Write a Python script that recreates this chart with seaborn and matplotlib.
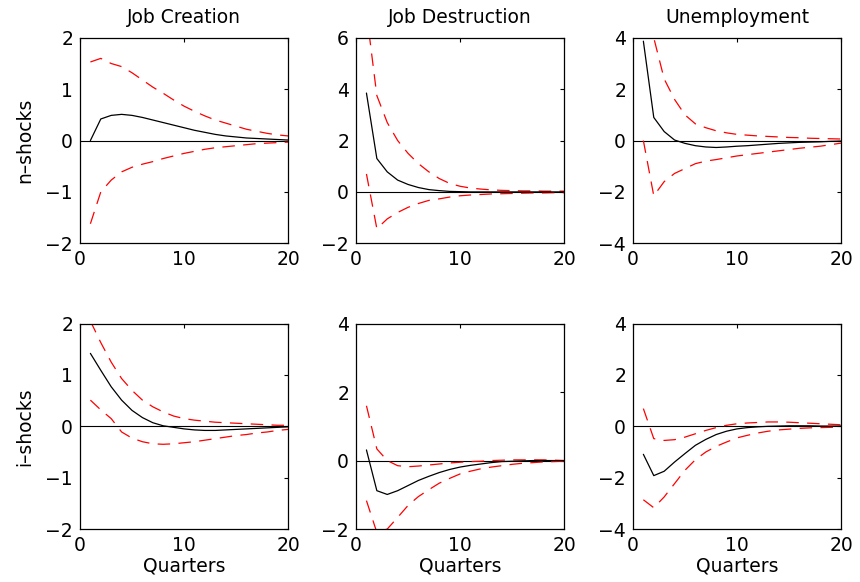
import numpy as np
import pandas as pd
import matplotlib
matplotlib.use("Agg")
import matplotlib.pyplot as plt
import seaborn as sns

quarters = list(range(1, 21))

# n-shocks
jc_n = [0.0, 0.42, 0.49, 0.51, 0.49, 0.45, 0.40, 0.35, 0.30, 0.25,
        0.20, 0.16, 0.12, 0.09, 0.07, 0.05, 0.04, 0.03, 0.02, 0.01]
jc_n_hi = [1.53, 1.60, 1.50, 1.44, 1.32, 1.18, 1.04, 0.92, 0.79, 0.67,
           0.57, 0.48, 0.40, 0.34, 0.28, 0.22, 0.18, 0.14, 0.11, 0.09]
jc_n_lo = [-1.62, -1.00, -0.77, -0.61, -0.52, -0.46, -0.41, -0.35, -0.30, -0.25,
           -0.21, -0.17, -0.14, -0.12, -0.10, -0.08, -0.06, -0.05, -0.04, -0.03]

jd_n = [3.85, 1.30, 0.78, 0.46, 0.29, 0.17, 0.09, 0.05, 0.02, 0.01,
        0.0, 0.0, 0.0, 0.0, 0.0, 0.0, 0.0, 0.0, 0.0, 0.0]
jd_n_hi = [7.0, 3.75, 2.70, 2.00, 1.50, 1.10, 0.78, 0.52, 0.33, 0.22,
           0.15, 0.11, 0.08, 0.06, 0.05, 0.04, 0.04, 0.03, 0.03, 0.03]
jd_n_lo = [0.70, -1.43, -1.05, -0.80, -0.60, -0.45, -0.33, -0.27, -0.20, -0.15,
           -0.12, -0.10, -0.08, -0.07, -0.06, -0.05, -0.04, -0.04, -0.03, -0.03]

un_n = [3.87, 0.90, 0.35, 0.02, -0.11, -0.20, -0.25, -0.27, -0.25, -0.22,
        -0.20, -0.17, -0.14, -0.11, -0.09, -0.07, -0.06, -0.05, -0.03, -0.02]
un_n_hi = [7.0, 4.0, 2.40, 1.60, 1.00, 0.65, 0.50, 0.38, 0.30, 0.24,
           0.21, 0.18, 0.16, 0.14, 0.12, 0.11, 0.09, 0.08, 0.07, 0.06]
un_n_lo = [0.0, -2.15, -1.60, -1.28, -1.09, -0.90, -0.80, -0.74, -0.67, -0.60,
           -0.55, -0.50, -0.45, -0.40, -0.35, -0.30, -0.26, -0.22, -0.16, -0.10]

# i-shocks
jc_i = [1.42, 1.09, 0.77, 0.51, 0.31, 0.17, 0.07, 0.01, -0.02, -0.05,
        -0.07, -0.08, -0.08, -0.07, -0.06, -0.05, -0.04, -0.03, -0.02, -0.01]
jc_i_hi = [2.05, 1.63, 1.25, 0.93, 0.70, 0.51, 0.38, 0.28, 0.20, 0.15,
           0.12, 0.10, 0.08, 0.07, 0.06, 0.05, 0.04, 0.03, 0.02, 0.02]
jc_i_lo = [0.51, 0.32, 0.15, -0.11, -0.23, -0.30, -0.34, -0.35, -0.34, -0.32,
           -0.30, -0.27, -0.24, -0.21, -0.18, -0.16, -0.13, -0.11, -0.08, -0.06]

jd_i = [0.31, -0.88, -0.99, -0.88, -0.73, -0.58, -0.46, -0.35, -0.26, -0.19,
        -0.14, -0.10, -0.06, -0.03, -0.02, -0.01, 0.0, 0.0, 0.0, 0.0]
jd_i_hi = [1.60, 0.34, 0.0, -0.15, -0.18, -0.16, -0.13, -0.10, -0.07, -0.05,
           -0.03, -0.02, 0.0, 0.01, 0.02, 0.02, 0.02, 0.02, 0.01, 0.0]
jd_i_lo = [-1.17, -2.10, -2.00, -1.66, -1.31, -1.05, -0.85, -0.66, -0.52, -0.39,
           -0.31, -0.24, -0.19, -0.15, -0.11, -0.08, -0.06, -0.04, -0.03, -0.02]

un_i = [-1.09, -1.92, -1.75, -1.39, -1.06, -0.74, -0.51, -0.32, -0.19, -0.10,
        -0.05, -0.02, 0.0, 0.01, 0.02, 0.02, 0.02, 0.01, 0.01, 0.01]
un_i_hi = [0.69, -0.48, -0.55, -0.52, -0.42, -0.29, -0.16, -0.05, 0.04, 0.10,
           0.13, 0.15, 0.17, 0.17, 0.16, 0.14, 0.12, 0.10, 0.08, 0.06]
un_i_lo = [-2.86, -3.17, -2.75, -2.23, -1.71, -1.30, -1.00, -0.78, -0.61, -0.45,
           -0.35, -0.26, -0.19, -0.14, -0.11, -0.08, -0.06, -0.05, -0.04, -0.03]

col_titles = ["Job Creation", "Job Destruction", "Unemployment"]
row_labels = ["n\u2013shocks", "i\u2013shocks"]
ylims = [[(-2, 2), (-2, 6), (-4, 4)], [(-2, 2), (-2, 4), (-4, 4)]]
yticks = [[[-2, -1, 0, 1, 2], [-2, 0, 2, 4, 6], [-4, -2, 0, 2, 4]],
          [[-2, -1, 0, 1, 2], [-2, 0, 2, 4], [-4, -2, 0, 2, 4]]]
panels = [[(jc_n, jc_n_hi, jc_n_lo), (jd_n, jd_n_hi, jd_n_lo), (un_n, un_n_hi, un_n_lo)],
          [(jc_i, jc_i_hi, jc_i_lo), (jd_i, jd_i_hi, jd_i_lo), (un_i, un_i_hi, un_i_lo)]]

sns.set_style("white")
plt.rcParams["font.family"] = ["DejaVu Sans"]
plt.rcParams["lines.scale_dashes"] = False
plt.rcParams.update({"text.color": "black", "axes.labelcolor": "black",
                     "xtick.color": "black", "ytick.color": "black"})

fig = plt.figure(figsize=(8.6, 5.82), dpi=100)
lefts = [0.093, 0.414, 0.736]
bottoms = [0.582, 0.091]
w, h = 0.242, 0.353

for r in range(2):
    for c in range(3):
        ax = fig.add_axes([lefts[c], bottoms[r], w, h])
        mid, hi, lo = panels[r][c]
        df = pd.DataFrame({"q": quarters, "mid": mid, "hi": hi, "lo": lo})
        ax.axhline(0, color="black", lw=0.8, zorder=1)
        sns.lineplot(data=df, x="q", y="hi", ax=ax, color="red", lw=0.9,
                     linestyle=(0, (9, 6)))
        sns.lineplot(data=df, x="q", y="lo", ax=ax, color="red", lw=0.9,
                     linestyle=(0, (9, 6)))
        sns.lineplot(data=df, x="q", y="mid", ax=ax, color="black", lw=0.9)
        ax.set_xlim(0, 20)
        ax.set_ylim(*ylims[r][c])
        ax.set_xticks([0, 10, 20])
        ax.set_yticks(yticks[r][c])
        ax.tick_params(direction="in", length=3, width=0.8, labelsize=13.5,
                       top=True, right=True, pad=5, colors="black")
        for s in ax.spines.values():
            s.set_linewidth(0.9)
            s.set_color("black")
        ax.set_xlabel("Quarters" if r == 1 else "", fontsize=13.5, labelpad=1)
        ax.set_ylabel(row_labels[r] if c == 0 else "", fontsize=13.5, labelpad=8)
        if r == 0:
            ax.set_title(col_titles[c], fontsize=13.5, pad=11)

fig.savefig("out.png", dpi=100)
